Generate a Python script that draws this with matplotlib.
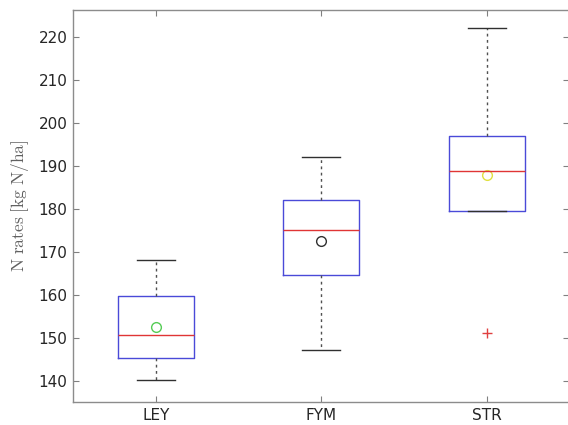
import matplotlib
matplotlib.use("Agg")
import matplotlib.pyplot as plt

# N rates per system, summary statistics of each box
groups = ["LEY", "FYM", "STR"]
q1 = [145.2, 164.6, 179.4]
med = [150.6, 175.0, 188.7]
q3 = [159.6, 182.0, 197.0]
whislo = [140.2, 147.1, 179.4]
whishi = [168.0, 192.1, 222.0]
means = [152.4, 172.5, 187.8]
outliers = [[], [], [151.2]]
mean_colors = ["#55cc55", "#303030", "#e0e040"]

plt.rcParams["mathtext.fontset"] = "cm"

stats = []
for i, g in enumerate(groups):
    stats.append(dict(label=g, q1=q1[i], med=med[i], q3=q3[i],
                      whislo=whislo[i], whishi=whishi[i], fliers=outliers[i]))

fig = plt.figure(figsize=(5.68, 4.25), dpi=100)
ax = fig.add_axes([0.1285, 0.0534, 0.874, 0.923])

pos = [1, 2, 3]
ax.bxp(stats, positions=pos, widths=0.46, capwidths=0.23,
       boxprops=dict(color="#4a4ad8", linewidth=1.0),
       medianprops=dict(color="#e03535", linewidth=1.0),
       whiskerprops=dict(color="#505050", linewidth=1.0, linestyle=(0, (2, 2.5))),
       capprops=dict(color="#303030", linewidth=1.0),
       flierprops=dict(marker="+", markeredgecolor="#e04040", markersize=7,
                       markeredgewidth=1.0))

for p, m, c in zip(pos, means, mean_colors):
    ax.plot(p, m, "o", markerfacecolor="none", markeredgecolor=c,
            markersize=7, markeredgewidth=1.0)

ax.set_xlim(0.5, 3.5)
ax.set_ylim(135, 226.2)
ax.set_yticks(range(140, 221, 10))
ax.set_xticks(pos)
ax.set_xticklabels(groups)

ax.tick_params(direction="in", top=True, right=True, length=4, width=0.8,
               color="#808080", labelsize=11, labelcolor="#262626", pad=4)
for s in ax.spines.values():
    s.set_color("#8c8c8c")
    s.set_linewidth(1.0)

ax.set_ylabel(r"$\mathrm{N\ rates\ [kg\ N/ha]}$", fontsize=12.5, color="#606060")
ax.yaxis.set_label_coords(-0.085, 0.5)

fig.savefig("out.png", dpi=100)
